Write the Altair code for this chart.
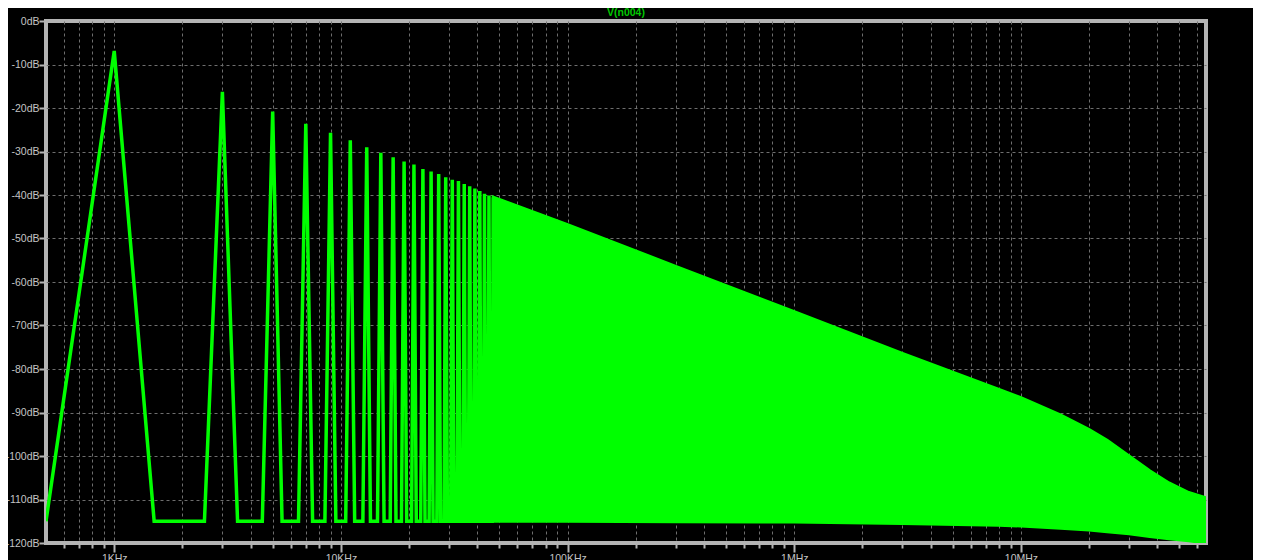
import altair as alt
import pandas as pd

# ---- data (LTspice FFT of V(n004)) ----
# odd harmonics of 1 kHz, individually visible spikes
peak_khz = [1, 3, 5, 7, 9, 11, 13, 15, 17, 19, 21, 23, 25, 27, 29, 31, 33, 35, 37, 39, 41, 43, 45, 47]
peak_db = [-6.9, -16.3, -20.8, -23.6, -25.7, -27.4, -29.0, -30.3, -31.3, -32.3, -33.0, -34.0,
           -34.6, -35.2, -35.9, -36.5, -36.8, -37.5, -38.0, -38.5, -39.1, -39.7, -40.1, -40.5]
floor_db = -115.0
bin_khz = 0.5

# dense region (spikes merge into a band): upper / lower envelopes
envelope_hz = [47e3, 100e3, 300e3, 1e6, 3e6, 8e6, 10e6, 15e6, 20e6, 24e6, 30e6, 37e6, 45e6, 55e6, 65.536e6]
upper_db = [-40.5, -46.8, -56.4, -66.8, -76.4, -84.7, -86.6, -90.6, -93.9, -96.4, -100.0, -103.4,
            -106.2, -108.4, -109.6]
lower_db = [-115.0, -115.0, -115.1, -115.2, -115.5, -115.9, -116.1, -116.6, -117.0, -117.4, -117.9,
            -118.5, -119.0, -119.5, -120.0]

title_text = ["V(n004)"]

x_ticks = [600, 700, 800, 900,
           1e3, 2e3, 3e3, 4e3, 5e3, 6e3, 7e3, 8e3, 9e3,
           1e4, 2e4, 3e4, 4e4, 5e4, 6e4, 7e4, 8e4, 9e4,
           1e5, 2e5, 3e5, 4e5, 5e5, 6e5, 7e5, 8e5, 9e5,
           1e6, 2e6, 3e6, 4e6, 5e6, 6e6, 7e6, 8e6, 9e6,
           1e7, 2e7, 3e7, 4e7, 5e7, 6e7]
y_ticks = [-120, -110, -100, -90, -80, -70, -60, -50, -40, -30, -20, -10, 0]
x_domain = [500, 65.536e6]
y_domain = [-120, 0]

# ---- tables ----
rows = []
for k, db in zip(peak_khz, peak_db):
    rows.append({"f": (k - bin_khz) * 1000, "db": floor_db})
    rows.append({"f": k * 1000, "db": db})
    rows.append({"f": (k + bin_khz) * 1000, "db": floor_db})
trace = pd.DataFrame(rows)
band = pd.DataFrame({"f": envelope_hz, "hi": upper_db, "lo": lower_db})
title_df = pd.DataFrame({"t": title_text})

GREEN = "#00ff00"
FRAME = "#b4b4b4"
LABEL = "#c4c4c4"
GRID = "#6e6e6e"
FONT = "Liberation Sans"
W, H = 1160, 522

decade_test = "indexof([1000,10000,100000,1000000,10000000], datum.value) >= 0"

x_scale = alt.Scale(type="log", domain=x_domain, nice=False)
y_scale = alt.Scale(domain=y_domain, nice=False, zero=False)

x_axis = alt.Axis(
    values=x_ticks,
    labelExpr=f"{decade_test} ? (datum.value >= 1000000 ? (datum.value/1000000) + 'MHz' : (datum.value/1000) + 'KHz') : ''",
    labelOverlap=False, labelFlush=False, labelFont=FONT, labelFontSize=10.5, labelColor=LABEL,
    labelPadding=1, labelBaseline="top",
    domain=False, ticks=True, tickColor=FRAME, tickWidth=2,
    tickSize={"condition": {"test": decade_test, "value": 9}, "value": 5},
    grid=True, gridColor=GRID, gridDash=[3, 3], gridWidth=1, title=None,
)
y_axis = alt.Axis(
    values=y_ticks, labelExpr="datum.value + 'dB'",
    labelFont=FONT, labelFontSize=10.5, labelColor=LABEL, labelPadding=0,
    domain=False, tickColor=FRAME, tickWidth=2, tickSize=7,
    grid=True, gridColor=GRID, gridDash=[3, 3], gridWidth=1,
    gridOpacity={"condition": {"test": "datum.value == 0 || datum.value == -120", "value": 0}, "value": 1},
    title=None,
)

line = alt.Chart(trace).mark_line(color=GREEN, strokeWidth=3.5, clip=True).encode(
    x=alt.X("f:Q", scale=x_scale, axis=x_axis),
    y=alt.Y("db:Q", scale=y_scale, axis=y_axis),
    order="f:Q",
)
area = alt.Chart(band).mark_area(color=GREEN, stroke=GREEN, strokeWidth=3, clip=True, opacity=1).encode(
    x=alt.X("f:Q", scale=x_scale),
    y=alt.Y("hi:Q", scale=y_scale),
    y2="lo:Q",
)
title = alt.Chart(title_df).mark_text(
    color="#00c800", font=FONT, fontSize=10.5, fontWeight="bold", align="center", baseline="middle"
).encode(text="t:N", x=alt.value(W / 2), y=alt.value(-8))

chart = alt.layer(line, area, title).properties(
    width=W, height=H,
    autosize=alt.AutoSizeParams(type="none"),
    padding={"left": 38, "top": 13, "right": 47, "bottom": 17},
    background="black",
).configure_view(stroke=FRAME, strokeWidth=4, fill="black")

chart.save("out.html", embed_options={"renderer": "svg", "actions": False})
